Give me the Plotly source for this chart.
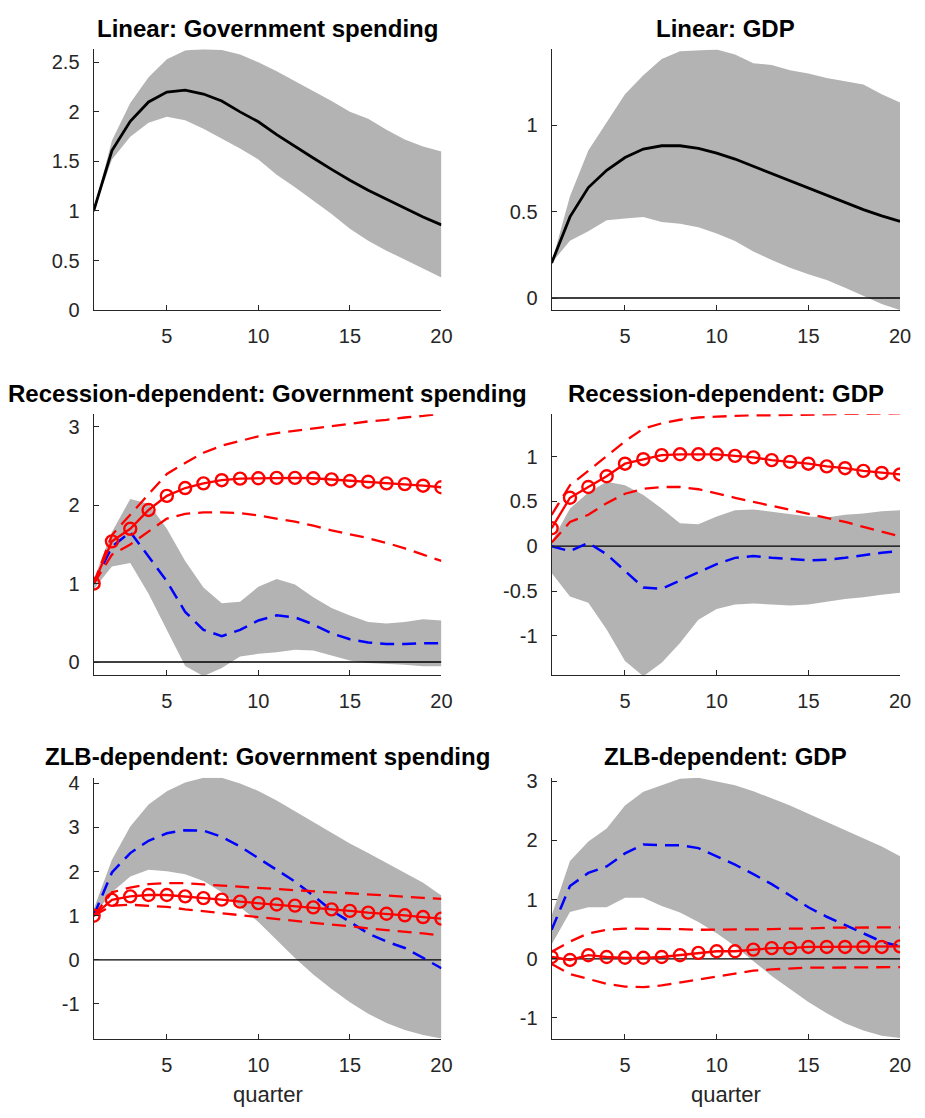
import plotly.graph_objects as go

quarters = list(range(1, 21))

# ---- Linear: Government spending
lin_gs_mean = [1.00, 1.61, 1.905, 2.10, 2.20, 2.22, 2.18, 2.11, 2.00, 1.90, 1.77, 1.65, 1.535, 1.42, 1.31, 1.21, 1.12, 1.03, 0.94, 0.86]
lin_gs_hi = [1.00, 1.71, 2.09, 2.35, 2.53, 2.62, 2.635, 2.625, 2.58, 2.50, 2.41, 2.31, 2.21, 2.11, 2.00, 1.93, 1.82, 1.72, 1.65, 1.60]
lin_gs_lo = [1.00, 1.52, 1.75, 1.89, 1.95, 1.915, 1.83, 1.73, 1.63, 1.52, 1.365, 1.24, 1.105, 0.97, 0.82, 0.70, 0.60, 0.51, 0.42, 0.33]

# ---- Linear: GDP
lin_y_mean = [0.203, 0.47, 0.64, 0.74, 0.814, 0.863, 0.882, 0.882, 0.867, 0.839, 0.805, 0.763, 0.72, 0.677, 0.634, 0.592, 0.55, 0.512, 0.476, 0.444]
lin_y_hi = [0.203, 0.59, 0.854, 1.02, 1.18, 1.29, 1.385, 1.43, 1.436, 1.44, 1.41, 1.36, 1.35, 1.32, 1.30, 1.275, 1.256, 1.237, 1.18, 1.133]
lin_y_lo = [0.203, 0.332, 0.387, 0.45, 0.46, 0.47, 0.44, 0.43, 0.41, 0.374, 0.33, 0.27, 0.22, 0.175, 0.137, 0.104, 0.06, 0.013, -0.034, -0.07]

# ---- Recession-dependent: Government spending
rec_gs_red = [1.00, 1.54, 1.70, 1.94, 2.12, 2.22, 2.28, 2.32, 2.34, 2.345, 2.35, 2.35, 2.345, 2.33, 2.31, 2.30, 2.28, 2.27, 2.25, 2.23]
rec_gs_red_hi = [1.00, 1.62, 1.88, 2.14, 2.40, 2.54, 2.67, 2.76, 2.82, 2.88, 2.92, 2.95, 2.98, 3.01, 3.04, 3.07, 3.09, 3.12, 3.14, 3.17]
rec_gs_red_lo = [1.00, 1.37, 1.50, 1.66, 1.83, 1.89, 1.91, 1.91, 1.90, 1.87, 1.83, 1.79, 1.74, 1.68, 1.63, 1.58, 1.52, 1.45, 1.37, 1.29]
rec_gs_blue = [1.00, 1.47, 1.66, 1.35, 1.03, 0.64, 0.41, 0.33, 0.41, 0.53, 0.595, 0.57, 0.48, 0.365, 0.29, 0.25, 0.23, 0.23, 0.24, 0.24]
rec_gs_blue_hi = [1.05, 1.66, 2.08, 2.02, 1.70, 1.29, 0.95, 0.75, 0.77, 0.96, 1.06, 0.99, 0.825, 0.69, 0.595, 0.51, 0.49, 0.51, 0.545, 0.53]
rec_gs_blue_lo = [0.93, 1.22, 1.265, 0.87, 0.41, -0.05, -0.18, -0.075, 0.07, 0.105, 0.125, 0.155, 0.147, 0.08, 0.02, -0.013, -0.02, -0.034, -0.055, -0.055]

# ---- Recession-dependent: GDP
rec_y_red = [0.20, 0.54, 0.66, 0.78, 0.92, 0.97, 1.015, 1.025, 1.025, 1.025, 1.007, 0.99, 0.96, 0.94, 0.92, 0.89, 0.87, 0.84, 0.817, 0.80]
rec_y_red_hi = [0.35, 0.68, 0.84, 1.00, 1.17, 1.31, 1.37, 1.41, 1.435, 1.445, 1.455, 1.46, 1.46, 1.465, 1.47, 1.47, 1.475, 1.475, 1.48, 1.48]
rec_y_red_lo = [0.04, 0.27, 0.35, 0.48, 0.585, 0.64, 0.66, 0.66, 0.635, 0.585, 0.54, 0.495, 0.45, 0.40, 0.36, 0.31, 0.27, 0.216, 0.165, 0.11]
rec_y_blue = [0.0, -0.055, 0.037, -0.09, -0.275, -0.46, -0.475, -0.385, -0.29, -0.20, -0.13, -0.11, -0.13, -0.147, -0.157, -0.15, -0.13, -0.10, -0.073, -0.055]
rec_y_blue_hi = [0.05, 0.42, 0.60, 0.72, 0.68, 0.57, 0.42, 0.256, 0.245, 0.33, 0.40, 0.41, 0.385, 0.36, 0.33, 0.32, 0.35, 0.366, 0.39, 0.40]
rec_y_blue_lo = [-0.30, -0.56, -0.63, -0.93, -1.28, -1.45, -1.30, -1.08, -0.82, -0.70, -0.65, -0.64, -0.65, -0.66, -0.65, -0.62, -0.59, -0.57, -0.54, -0.52]

# ---- ZLB-dependent: Government spending
zlb_gs_red = [1.00, 1.36, 1.44, 1.47, 1.47, 1.44, 1.40, 1.365, 1.32, 1.285, 1.255, 1.23, 1.19, 1.145, 1.11, 1.07, 1.045, 1.01, 0.97, 0.935]
zlb_gs_red_hi = [1.00, 1.53, 1.64, 1.715, 1.74, 1.74, 1.71, 1.68, 1.655, 1.625, 1.605, 1.58, 1.55, 1.53, 1.51, 1.48, 1.455, 1.435, 1.405, 1.38]
zlb_gs_red_lo = [1.00, 1.23, 1.25, 1.23, 1.20, 1.145, 1.10, 1.05, 1.01, 0.965, 0.92, 0.885, 0.84, 0.80, 0.765, 0.71, 0.675, 0.64, 0.60, 0.55]
zlb_gs_blue = [1.00, 1.98, 2.42, 2.70, 2.87, 2.94, 2.93, 2.79, 2.57, 2.31, 2.05, 1.775, 1.455, 1.12, 0.86, 0.60, 0.415, 0.27, 0.045, -0.19]
zlb_gs_blue_hi = [1.15, 2.27, 3.02, 3.52, 3.82, 4.02, 4.13, 4.13, 4.00, 3.83, 3.61, 3.37, 3.13, 2.88, 2.64, 2.42, 2.20, 1.98, 1.75, 1.46]
zlb_gs_blue_lo = [1.00, 1.53, 1.89, 2.04, 2.01, 1.94, 1.79, 1.53, 1.20, 0.86, 0.45, 0.045, -0.33, -0.66, -0.96, -1.22, -1.43, -1.59, -1.70, -1.78]

# ---- ZLB-dependent: GDP
zlb_y_red = [0.03, -0.02, 0.06, 0.03, 0.017, 0.017, 0.03, 0.06, 0.10, 0.127, 0.127, 0.155, 0.18, 0.18, 0.20, 0.20, 0.20, 0.20, 0.20, 0.21]
zlb_y_red_hi = [0.12, 0.29, 0.43, 0.49, 0.51, 0.51, 0.50, 0.50, 0.49, 0.49, 0.49, 0.50, 0.50, 0.51, 0.51, 0.525, 0.53, 0.53, 0.53, 0.53]
zlb_y_red_lo = [-0.09, -0.26, -0.34, -0.425, -0.47, -0.48, -0.45, -0.40, -0.34, -0.29, -0.25, -0.20, -0.18, -0.16, -0.15, -0.15, -0.15, -0.15, -0.145, -0.14]
zlb_y_blue = [0.49, 1.23, 1.45, 1.56, 1.78, 1.93, 1.92, 1.92, 1.87, 1.73, 1.59, 1.43, 1.26, 1.07, 0.87, 0.71, 0.57, 0.43, 0.29, 0.21]
zlb_y_blue_hi = [0.73, 1.65, 1.98, 2.20, 2.59, 2.82, 2.93, 3.04, 3.06, 3.00, 2.93, 2.83, 2.71, 2.59, 2.45, 2.31, 2.17, 2.03, 1.895, 1.73]
zlb_y_blue_lo = [0.24, 0.79, 0.87, 0.87, 1.03, 1.03, 0.89, 0.78, 0.62, 0.43, 0.21, -0.04, -0.29, -0.51, -0.73, -0.92, -1.09, -1.21, -1.30, -1.34]

titles = ["Linear: Government spending", "Linear: GDP",
          "Recession-dependent: Government spending", "Recession-dependent: GDP",
          "ZLB-dependent: Government spending", "ZLB-dependent: GDP"]
x_ticks = [5, 10, 15, 20]
y_ranges = [[0, 2.63], [-0.07, 1.44], [-0.17, 3.16], [-1.44, 1.47], [-1.8, 4.13], [-1.36, 3.06]]
y_tickvals = [[0, 0.5, 1, 1.5, 2, 2.5], [0, 0.5, 1], [0, 1, 2, 3],
              [-1, -0.5, 0, 0.5, 1], [-1, 0, 1, 2, 3, 4], [-1, 0, 1, 2, 3]]
y_ticktext = [["0", "0.5", "1", "1.5", "2", "2.5"], ["0", "0.5", "1"], ["0", "1", "2", "3"],
              ["-1", "-0.5", "0", "0.5", "1"], ["-1", "0", "1", "2", "3", "4"], ["-1", "0", "1", "2", "3"]]
x_label = "quarter"

GRAY = "#b3b3b3"
RED = "#ff0000"
BLUE = "#0000ff"
AXC = "#262626"
FONT = "Liberation Sans, Arial, Helvetica, sans-serif"
DASH = "14px,8px"

fig = go.Figure()


def refs(k):
    return ("x" if k == 1 else f"x{k}"), ("y" if k == 1 else f"y{k}")


def band(k, lo, hi):
    xa, ya = refs(k)
    fig.add_trace(go.Scatter(x=quarters, y=lo, mode="lines", line=dict(width=0, color=GRAY),
                             xaxis=xa, yaxis=ya, showlegend=False, hoverinfo="skip"))
    fig.add_trace(go.Scatter(x=quarters, y=hi, mode="lines", line=dict(width=0, color=GRAY),
                             fill="tonexty", fillcolor=GRAY,
                             xaxis=xa, yaxis=ya, showlegend=False, hoverinfo="skip"))


def zero(k):
    xa, ya = refs(k)
    fig.add_trace(go.Scatter(x=quarters, y=[0] * len(quarters), mode="lines",
                             line=dict(color="#000000", width=1.3),
                             xaxis=xa, yaxis=ya, showlegend=False, hoverinfo="skip"))


def line(k, y, color, dash="solid", width=2.3, markers=False):
    xa, ya = refs(k)
    kw = dict(mode="lines")
    if markers:
        kw = dict(mode="lines+markers",
                  marker=dict(symbol="circle-open", size=12, color=color, line=dict(width=2.4, color=color)))
    fig.add_trace(go.Scatter(x=quarters, y=y, line=dict(color=color, width=width, dash=dash),
                             xaxis=xa, yaxis=ya, showlegend=False, **kw))


# panel 1
band(1, lin_gs_lo, lin_gs_hi)
line(1, lin_gs_mean, "#000000", width=2.8)
# panel 2
band(2, lin_y_lo, lin_y_hi)
zero(2)
line(2, lin_y_mean, "#000000", width=2.8)
# panels 3-6
panels = [
    (3, rec_gs_blue_lo, rec_gs_blue_hi, rec_gs_blue, rec_gs_red_hi, rec_gs_red_lo, rec_gs_red),
    (4, rec_y_blue_lo, rec_y_blue_hi, rec_y_blue, rec_y_red_hi, rec_y_red_lo, rec_y_red),
    (5, zlb_gs_blue_lo, zlb_gs_blue_hi, zlb_gs_blue, zlb_gs_red_hi, zlb_gs_red_lo, zlb_gs_red),
    (6, zlb_y_blue_lo, zlb_y_blue_hi, zlb_y_blue, zlb_y_red_hi, zlb_y_red_lo, zlb_y_red),
]
for k, blo, bhi, bmean, rhi, rlo, rmean in panels:
    band(k, blo, bhi)
    zero(k)
    line(k, bmean, BLUE, DASH, 2.5)
    line(k, rhi, RED, DASH, 2.3)
    line(k, rlo, RED, DASH, 2.3)
    line(k, rmean, RED, markers=True)

# the page body keeps the browser's default 8px margin; lay the figure out in page pixels minus that
OFF = 8
PW, PH = 925, 1118
W, H = PW - 2 * OFF, PH - 2 * OFF
x_px = [[94.7, 446.7], [558.3, 911.0]]
y_px = [[43.0, 308.0], [414.0, 679.3], [783.3, 1049.3]]
x_dom = [[(a - OFF) / W, (b - OFF) / W] for a, b in x_px]
y_dom = [[1 - (b - OFF) / H, 1 - (t - OFF) / H] for t, b in y_px]

layout = dict(width=W, height=H, autosize=False, margin=dict(l=0, r=0, t=0, b=0, pad=0),
              paper_bgcolor="white", plot_bgcolor="white",
              font=dict(family=FONT, size=20, color=AXC))
annotations = []
for k in range(1, 7):
    r, c = (k - 1) // 2, (k - 1) % 2
    xn = "xaxis" if k == 1 else f"xaxis{k}"
    yn = "yaxis" if k == 1 else f"yaxis{k}"
    xa, ya = refs(k)
    layout[xn] = dict(domain=x_dom[c], anchor=ya, range=[1, 20], tickvals=x_ticks,
                      ticks="inside", ticklen=5, tickcolor=AXC, tickwidth=1.2,
                      showline=True, linecolor=AXC, linewidth=1.2,
                      showgrid=False, zeroline=False, mirror=False, ticklabelstandoff=8,
                      tickfont=dict(size=20, color=AXC, family=FONT))
    layout[yn] = dict(domain=y_dom[r], anchor=xa, range=y_ranges[k - 1],
                      tickvals=y_tickvals[k - 1], ticktext=y_ticktext[k - 1],
                      ticks="inside", ticklen=5, tickcolor=AXC, tickwidth=1.2,
                      showline=True, linecolor=AXC, linewidth=1.2,
                      showgrid=False, zeroline=False, mirror=False, ticklabelstandoff=9,
                      tickfont=dict(size=20, color=AXC, family=FONT))
    annotations.append(dict(text=f"<b>{titles[k - 1]}</b>", xref=f"{xa} domain", yref=f"{ya} domain",
                            x=0.5, y=1, xanchor="center", yanchor="middle", yshift=21,
                            showarrow=False, font=dict(family=FONT, size=24, color="#000000")))
    if r == 2:
        annotations.append(dict(text=x_label, xref=f"{xa} domain", yref=f"{ya} domain",
                                x=0.5, y=0, xanchor="center", yanchor="middle", yshift=-55,
                                showarrow=False, font=dict(family=FONT, size=22, color=AXC)))
layout["annotations"] = annotations
fig.update_layout(**layout)

fig.write_html("out.html")
